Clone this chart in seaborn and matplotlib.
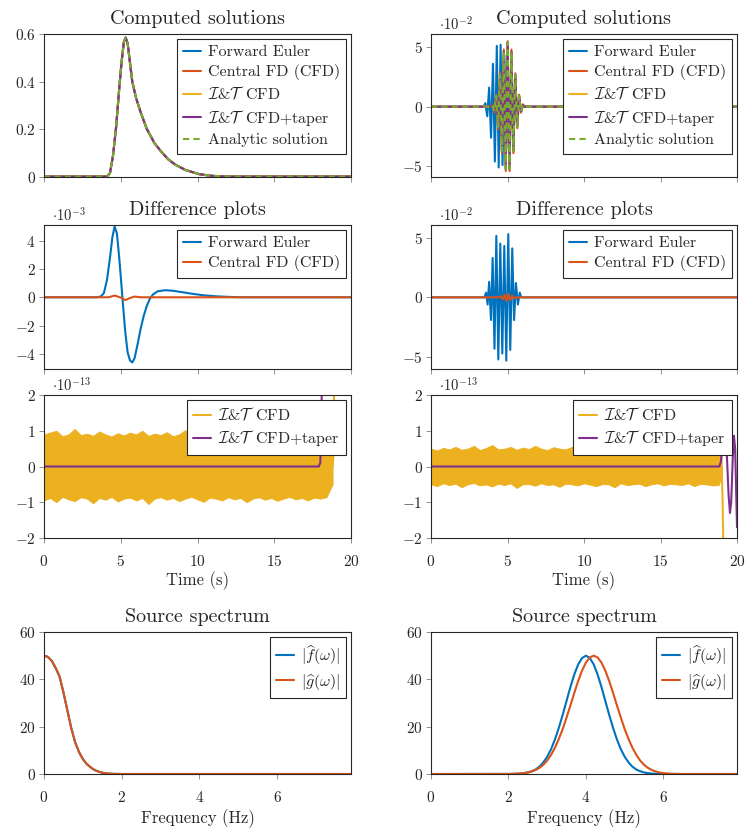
import matplotlib
matplotlib.use("Agg")
import matplotlib.pyplot as plt
import seaborn as sns
from matplotlib.ticker import FuncFormatter

# ---------------- data ----------------
# left column: smooth pulse (all methods coincide)
t_sol_left = [0, 4.1, 4.3, 4.5, 4.7, 4.9, 5.05, 5.2, 5.32, 5.45, 5.6, 5.75, 6.0, 6.3,
              6.7, 7.2, 7.7, 8.1, 8.55, 9.2, 10.1, 10.9, 12.0, 20]
sol_left = [0, 0, 0.015, 0.09, 0.21, 0.37, 0.48, 0.565, 0.585, 0.56, 0.48, 0.40, 0.33,
            0.27, 0.20, 0.14, 0.10, 0.072, 0.05, 0.028, 0.01, 0.003, 0, 0]

# left column: differences (units of 1e-3)
t_fe_diff_left = [0, 3.4, 3.7, 3.9, 4.1, 4.3, 4.45, 4.6, 4.75, 4.9, 5.05, 5.15, 5.3, 5.45,
                  5.6, 5.75, 5.9, 6.1, 6.3, 6.5, 6.7, 6.9, 7.1, 7.4, 7.9, 8.4, 9.0, 9.7,
                  10.4, 11.2, 12.2, 13.0, 20]
fe_diff_left = [0, 0, 0.05, 0.3, 1.2, 2.8, 4.2, 5.0, 4.5, 2.8, 0.8, -0.6, -2.5, -3.9,
                -4.45, -4.6, -4.3, -3.3, -2.2, -1.3, -0.6, -0.1, 0.2, 0.42, 0.5, 0.46,
                0.36, 0.24, 0.14, 0.07, 0.02, 0, 0]
t_cfd_diff_left = [0, 4.2, 4.6, 4.95, 5.3, 5.6, 5.9, 6.3, 20]
cfd_diff_left = [0, 0, 0.12, 0, -0.2, -0.05, 0.05, 0, 0]

# left column: round-off band of I&T CFD (units of 1e-13)
t_band_left = [0, 0.4, 0.8, 1.2, 1.6, 2.0, 2.4, 2.8, 3.2, 3.6, 4.0, 4.4, 4.8, 5.2, 5.6, 6.0,
               6.4, 6.8, 7.2, 7.6, 8.0, 8.4, 8.8, 9.2, 9.6, 10.0, 10.4, 10.8, 11.2, 11.6,
               12.0, 12.4, 12.8, 13.2, 13.6, 14.0, 14.4, 14.8, 15.2, 15.6, 16.0, 16.4,
               16.8, 17.2, 17.6, 18.0, 18.4, 18.8]
band_up_left = [0.9, 0.95, 1.0, 0.85, 0.9, 1.05, 0.88, 0.92, 0.86, 0.98, 0.9, 0.84, 0.93,
                0.87, 0.95, 0.9, 1.0, 0.86, 0.92, 0.88, 0.96, 0.85, 0.9, 1.02, 0.87, 0.93,
                0.88, 0.97, 0.9, 0.85, 0.94, 0.89, 0.92, 0.86, 0.95, 0.88, 0.9, 0.84, 0.93,
                0.87, 0.91, 0.86, 0.9, 0.84, 0.88, 0.85, 0.9, 0.88]
band_lo_left = [-0.95, -0.88, -1.0, -0.85, -0.92, -0.97, -0.86, -0.9, -1.03, -0.88, -0.93,
                -0.85, -0.98, -0.9, -0.87, -0.95, -0.88, -1.05, -0.9, -0.86, -0.93, -0.88,
                -0.97, -0.9, -0.85, -0.92, -0.99, -0.87, -0.9, -0.95, -0.86, -0.92, -0.88,
                -1.0, -0.9, -0.86, -0.93, -0.88, -0.96, -0.9, -0.85, -0.92, -0.88, -0.95,
                -0.87, -0.9, -0.86, -0.5]
t_it_tail_left = [18.8, 18.86, 18.9, 18.95]
it_tail_left = [0, 0.3, 2.5, 5.0]
t_taper_left = [0, 17.9, 18.0, 18.05, 18.1, 18.15]
taper_left = [0, 0, 0.1, 0.8, 2.2, 4.0]

# right column: wave packet (units of 1e-2)
t_fe_right = [0, 3.45, 3.55, 3.675, 3.8, 3.925, 4.05, 4.175, 4.3, 4.425, 4.55, 4.675, 4.8,
              4.925, 5.05, 5.175, 5.3, 5.425, 5.55, 5.65, 20]
fe_right = [0, 0, 0.3, -0.8, 1.6, -2.6, 3.6, -4.6, 5.1, -5.1, 5.2, -4.9, 4.3, -3.5, 2.6,
            -1.7, 1.0, -0.5, 0.2, 0, 0]
t_an_right = [0, 3.9, 4.01, 4.135, 4.26, 4.385, 4.51, 4.635, 4.76, 4.885, 5.01, 5.135,
              5.26, 5.385, 5.51, 5.635, 5.76, 5.885, 6.01, 6.1, 20]
an_right = [0, 0, 0.15, -0.4, 0.9, -1.7, 2.7, -3.7, 4.6, -5.2, 5.4, -5.2, 4.6, -3.7, 2.7,
            -1.7, 0.9, -0.4, 0.15, 0, 0]
cfd_right = [0, 0, 0.2, -0.5, 1.0, -1.9, 2.9, -3.9, 4.8, -5.4, 5.5, -5.4, 4.8, -3.9, 2.8,
             -1.8, 1.0, -0.5, 0.2, 0, 0]

t_fe_diff_right = [0, 3.5, 3.6, 3.7, 3.8, 3.92, 4.03, 4.15, 4.27, 4.4, 4.53, 4.66, 4.79,
                   4.92, 5.05, 5.18, 5.31, 5.43, 5.55, 5.68, 5.8, 5.9, 20]
fe_diff_right = [0, 0, 0.4, -0.6, 1.3, -1.9, 3.3, -4.3, 5.15, -5.2, 4.5, -4.7, 4.3, -5.3,
                 5.3, -4.4, 4.1, -1.9, 1.2, -0.6, 0.4, 0, 0]
t_cfd_diff_right = [0, 4.4, 4.55, 4.675, 4.8, 4.925, 5.05, 5.175, 5.3, 5.425, 5.55, 20]
cfd_diff_right = [0, 0, 0.1, -0.15, 0.2, -0.3, 0.3, -0.25, 0.15, -0.1, 0, 0]

t_band_right = [0, 0.4, 0.8, 1.2, 1.6, 2.0, 2.4, 2.8, 3.2, 3.6, 4.0, 4.4, 4.8, 5.2, 5.6,
                6.0, 6.4, 6.8, 7.2, 7.6, 8.0, 8.4, 8.8, 9.2, 9.6, 10.0, 10.4, 10.8, 11.2,
                11.6, 12.0, 12.4, 12.8, 13.2, 13.6, 14.0, 14.4, 14.8, 15.2, 15.6, 16.0,
                16.4, 16.8, 17.2, 17.6, 18.0, 18.4, 18.8, 19.0]
band_up_right = [0.5, 0.45, 0.52, 0.48, 0.55, 0.47, 0.5, 0.58, 0.46, 0.52, 0.6, 0.48, 0.5,
                 0.55, 0.47, 0.53, 0.49, 0.58, 0.5, 0.46, 0.54, 0.5, 0.48, 0.55, 0.5, 0.47,
                 0.52, 0.5, 0.46, 0.53, 0.49, 0.51, 0.47, 0.55, 0.5, 0.48, 0.52, 0.46,
                 0.5, 0.54, 0.48, 0.5, 0.47, 0.52, 0.49, 0.5, 0.48, 0.5, 0.45]
band_lo_right = [-0.5, -0.55, -0.47, -0.52, -0.48, -0.58, -0.5, -0.46, -0.53, -0.5,
                 -0.56, -0.48, -0.52, -0.47, -0.6, -0.5, -0.49, -0.54, -0.47, -0.52, -0.5,
                 -0.57, -0.48, -0.5, -0.53, -0.47, -0.51, -0.55, -0.49, -0.5, -0.58, -0.47,
                 -0.52, -0.5, -0.48, -0.55, -0.5, -0.47, -0.53, -0.49, -0.5, -0.52, -0.47,
                 -0.55, -0.49, -0.5, -0.53, -0.52, -0.3]
t_it_tail_right = [19.0, 19.05, 19.1, 19.15]
it_tail_right = [0, -0.8, -2.0, -3.0]
t_taper_right = [0, 18.85, 18.95, 19.05, 19.2, 19.33, 19.45, 19.54, 19.62, 19.72, 19.8,
                 19.88, 19.94, 20.0]
taper_right = [0, 0, 0.15, 0.7, 1.1, 0.4, -0.8, -1.3, -1.0, 0.2, 0.86, 0.5, -0.6, -1.7]

# source spectra
nu_left = [0, 0.1, 0.2, 0.3, 0.4, 0.5, 0.6, 0.7, 0.8, 0.9, 1.0, 1.1, 1.2, 1.3, 1.4, 1.5,
           1.6, 1.7, 1.8, 2.0, 7.9]
spec_left = [50, 49.5, 47.8, 44.8, 41.2, 34.5, 27, 19.5, 13.5, 9.3, 6.3, 4.2, 2.8, 1.7,
             1.0, 0.55, 0.28, 0.13, 0.05, 0, 0]
nu_right = [0, 2.0, 2.1, 2.2, 2.3, 2.4, 2.5, 2.6, 2.7, 2.8, 2.9, 3.0, 3.1, 3.2, 3.3, 3.4,
            3.5, 3.6, 3.7, 3.8, 3.9, 4.0, 4.1, 4.2, 4.3, 4.4, 4.5, 4.6, 4.7, 4.8, 4.9,
            5.0, 5.1, 5.2, 5.3, 5.4, 5.5, 5.6, 5.7, 5.8, 5.9, 6.0, 6.1, 6.2, 6.3, 6.4,
            6.5, 6.6, 7.9]
f_right = [0, 0.02, 0.05, 0.1, 0.2, 0.37, 0.66, 1.15, 1.9, 3.1, 4.9, 7.3, 10.5, 14.6,
           19.5, 25.0, 30.9, 36.8, 42.1, 46.3, 49.0, 50, 49.0, 46.3, 42.1, 36.8, 30.9,
           25.0, 19.5, 14.6, 10.5, 7.3, 4.9, 3.1, 1.9, 1.15, 0.66, 0.37, 0.2, 0.1, 0.05,
           0.02, 0.01, 0, 0, 0, 0, 0, 0]
g_right = [0, 0.03, 0.065, 0.12, 0.22, 0.38, 0.65, 1.06, 1.7, 2.6, 3.9, 5.7, 8.1, 11.1,
           14.8, 19.0, 23.9, 29.0, 34.3, 39.3, 43.7, 47.1, 49.25, 50, 49.25, 47.1, 43.7,
           39.3, 34.3, 29.0, 23.9, 19.0, 14.8, 11.1, 8.1, 5.7, 3.9, 2.6, 1.7, 1.06, 0.65,
           0.38, 0.22, 0.12, 0.065, 0.03, 0.01, 0, 0]

BLUE, ORANGE, YELLOW, PURPLE, GREEN = "#0072BD", "#D95319", "#EDB120", "#7E2F8E", "#77AC30"
L_FE, L_CFD = "Forward Euler", "Central FD (CFD)"
L_IT = r"$\mathcal{I}$&$\mathcal{T}\enspace\mathrm{CFD}$"
L_ITT = r"$\mathcal{I}$&$\mathcal{T}\enspace\mathrm{CFD{+}taper}$"

# ---------------- style ----------------
sns.set_theme(style="ticks")
plt.rcParams.update({
    "font.family": ["cmr10", "DejaVu Serif"],
    "mathtext.fontset": "cm",
    "axes.formatter.use_mathtext": True,
    "axes.edgecolor": "0.15",
    "axes.linewidth": 0.8,
})

fig = plt.figure(figsize=(7.53, 8.35), dpi=100)
W, H = 753, 835


def make_ax(x0, x1, y0, y1):
    return fig.add_axes([x0 / W, 1 - y1 / H, (x1 - x0) / W, (y1 - y0) / H])


def line(ax, x, y, color, label=None, **kw):
    sns.lineplot(x=x, y=y, ax=ax, color=color, label=label, lw=1.5,
                 estimator=None, sort=False, **kw)


def style(ax, xlim, ylim, yticks, xticks, xlabels=True):
    ax.set_xlim(*xlim)
    ax.set_ylim(*ylim)
    ax.set_yticks(yticks)
    ax.set_xticks(xticks)
    fmt = FuncFormatter(lambda v, p: f"${v:g}$")
    ax.xaxis.set_major_formatter(fmt)
    ax.yaxis.set_major_formatter(fmt)
    ax.tick_params(direction="out", length=3.5, width=0.6, color="0.5",
                   labelsize=11, top=False, right=False)
    ax.tick_params(axis="x", pad=8, labelbottom=xlabels)
    ax.tick_params(axis="y", pad=2.5)
    for s in ax.spines.values():
        s.set_visible(True)


def legend(ax):
    leg = ax.legend(loc="upper right", fontsize=11.5, frameon=True, fancybox=False,
                    edgecolor="0.15", facecolor="white", framealpha=1, borderpad=0.4,
                    labelspacing=0.32, handlelength=1.1, handletextpad=0.45,
                    borderaxespad=0.3)
    leg.get_frame().set_linewidth(0.8)


def scale_tag(ax, txt):
    ax.text(0.025, 1.012, txt, transform=ax.transAxes, ha="left", va="bottom", fontsize=10.5)


cols = [(44, 351), (431, 737)]
rows = [(34, 177), (225, 369), (395, 538), (632, 774)]
tticks = [0, 5, 10, 15, 20]
TITLE = 14.5

# row 1: computed solutions
ax = make_ax(*cols[0], *rows[0])
line(ax, t_sol_left, sol_left, BLUE, L_FE)
line(ax, t_sol_left, sol_left, ORANGE, L_CFD)
line(ax, t_sol_left, sol_left, YELLOW, L_IT)
line(ax, t_sol_left, sol_left, PURPLE, L_ITT)
line(ax, t_sol_left, sol_left, GREEN, "Analytic solution", linestyle=(0, (3, 2)))
style(ax, (0, 20), (-0.002, 0.6), [0, 0.2, 0.4, 0.6], tticks, False)
legend(ax)
ax.set_title("Computed solutions", fontsize=TITLE, pad=7)

ax = make_ax(*cols[1], *rows[0])
line(ax, t_fe_right, fe_right, BLUE, L_FE)
line(ax, t_an_right, cfd_right, ORANGE, L_CFD)
line(ax, t_an_right, an_right, YELLOW, L_IT)
line(ax, t_an_right, an_right, PURPLE, L_ITT)
line(ax, t_an_right, an_right, GREEN, "Analytic solution", linestyle=(0, (3, 2)))
style(ax, (0, 20), (-5.9, 6.1), [-5, 0, 5], tticks, False)
legend(ax)
scale_tag(ax, r"$\cdot 10^{-2}$")
ax.set_title("Computed solutions", fontsize=TITLE, pad=7)

# row 2: difference plots
ax = make_ax(*cols[0], *rows[1])
line(ax, t_fe_diff_left, fe_diff_left, BLUE, L_FE)
line(ax, t_cfd_diff_left, cfd_diff_left, ORANGE, L_CFD)
style(ax, (0, 20), (-5.06, 5.1), [-4, -2, 0, 2, 4], tticks, False)
legend(ax)
scale_tag(ax, r"$\cdot 10^{-3}$")
ax.set_title("Difference plots", fontsize=TITLE, pad=7)

ax = make_ax(*cols[1], *rows[1])
line(ax, t_fe_diff_right, fe_diff_right, BLUE, L_FE)
line(ax, t_cfd_diff_right, cfd_diff_right, ORANGE, L_CFD)
style(ax, (0, 20), (-6.0, 6.06), [-5, 0, 5], tticks, False)
legend(ax)
scale_tag(ax, r"$\cdot 10^{-2}$")
ax.set_title("Difference plots", fontsize=TITLE, pad=7)

# row 3: I&T differences (round-off level)
for c, (tb, up, lo, tt, it, tp, tap) in zip(cols, [
        (t_band_left, band_up_left, band_lo_left, t_it_tail_left, it_tail_left,
         t_taper_left, taper_left),
        (t_band_right, band_up_right, band_lo_right, t_it_tail_right, it_tail_right,
         t_taper_right, taper_right)]):
    ax = make_ax(*c, *rows[2])
    line(ax, tt, it, YELLOW, L_IT)
    ax.fill_between(tb, lo, up, color=YELLOW, lw=0.6, edgecolor=YELLOW)
    line(ax, tp, tap, PURPLE, L_ITT)
    style(ax, (0, 20), (-2, 2), [-2, -1, 0, 1, 2], tticks, True)
    legend(ax)
    scale_tag(ax, r"$\cdot 10^{-13}$")
    ax.set_xlabel("Time (s)", fontsize=12, labelpad=2)

# row 4: source spectrum
for c, (nu, f, nu2, g) in zip(cols, [(nu_left, spec_left, nu_left, spec_left),
                                     (nu_right, f_right, nu_right, g_right)]):
    ax = make_ax(*c, *rows[3])
    line(ax, nu, f, BLUE, r"$|\widehat{f}(\omega)|$")
    line(ax, nu2, g, ORANGE, r"$|\widehat{g}(\omega)|$")
    style(ax, (0, 7.9), (0, 60), [0, 20, 40, 60], [0, 2, 4, 6], True)
    legend(ax)
    ax.set_xlabel("Frequency (Hz)", fontsize=12, labelpad=3)
    ax.set_title("Source spectrum", fontsize=TITLE, pad=7)

fig.savefig("out.png", dpi=100)
